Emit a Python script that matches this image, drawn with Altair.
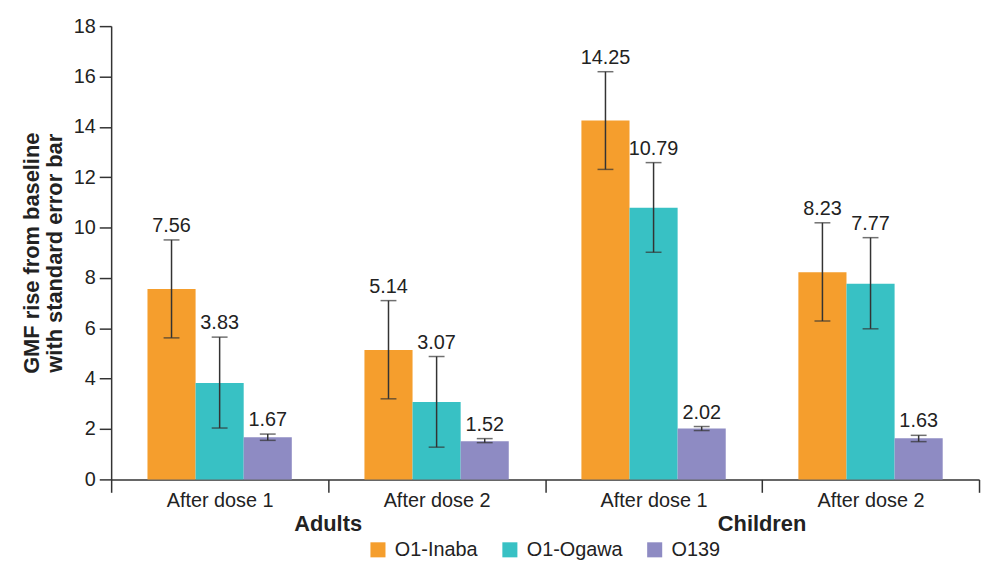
import altair as alt
import pandas as pd

groups = ["Adults", "Adults", "Children", "Children"]
doses = ["After dose 1", "After dose 2", "After dose 1", "After dose 2"]
series = ["O1-Inaba", "O1-Ogawa", "O139"]
colors = ["#F59E2D", "#38C1C4", "#8E8BC3"]

values = {
    "O1-Inaba": [7.56, 5.14, 14.25, 8.23],
    "O1-Ogawa": [3.83, 3.07, 10.79, 7.77],
    "O139": [1.67, 1.52, 2.02, 1.63],
}
err_low = {
    "O1-Inaba": [5.62, 3.2, 12.31, 6.29],
    "O1-Ogawa": [2.04, 1.28, 9.02, 5.98],
    "O139": [1.55, 1.46, 1.94, 1.5],
}
err_high = {
    "O1-Inaba": [9.51, 7.1, 16.19, 10.19],
    "O1-Ogawa": [5.65, 4.88, 12.58, 9.6],
    "O139": [1.8, 1.62, 2.1, 1.75],
}

rows = []
for s in series:
    for i in range(4):
        rows.append({
            "key": f"{groups[i]}|{doses[i]}",
            "series": s,
            "value": values[s][i],
            "lo": err_low[s][i],
            "hi": err_high[s][i],
            "label": f"{values[s][i]:.2f}",
        })
df = pd.DataFrame(rows)
keys = [f"{g}|{d}" for g, d in zip(groups, doses)]

grp_rows = []
for g in ["Adults", "Children"]:
    idx = [i for i in range(4) if groups[i] == g]
    grp_rows.append({"key": keys[idx[1]], "group": g})
gdf = pd.DataFrame(grp_rows)

FONT = "Liberation Sans"
TXT = "#222222"
W, H = 875, 457

x_enc = alt.X(
    "key:N", sort=keys, title=None,
    scale=alt.Scale(paddingInner=0, paddingOuter=0),
    axis=alt.Axis(
        labelExpr="split(datum.label, '|')[1]",
        labelFontSize=20, labelColor=TXT, labelFont=FONT,
        labelPadding=-2, tickSize=13, tickBand="extent",
        domainColor="#333", tickColor="#333", domainWidth=1.5, tickWidth=1.5,
        labelAngle=0,
    ),
)
xoff = alt.XOffset("series:N", sort=series,
                   scale=alt.Scale(paddingInner=0, paddingOuter=0.755))
y_scale = alt.Scale(domain=[0, 18])

bars = alt.Chart(df).mark_bar().encode(
    x=x_enc,
    xOffset=xoff,
    y=alt.Y("value:Q", scale=y_scale, title=["GMF rise from baseline", "with standard error bar"],
            axis=alt.Axis(values=list(range(0, 19, 2)), grid=False, tickSize=12,
                          labelFontSize=20, labelColor=TXT, labelFont=FONT, labelPadding=4,
                          domainColor="#333", tickColor="#333", domainWidth=1.5, tickWidth=1.5,
                          titleFontSize=22, titleFont=FONT, titleFontWeight="bold",
                          titleColor=TXT, titlePadding=7, titleLineHeight=23)),
    color=alt.Color("series:N", sort=series,
                    scale=alt.Scale(domain=series, range=colors),
                    legend=alt.Legend(title=None, orient="none", direction="horizontal",
                                      legendX=259, legendY=518,
                                      symbolType="square", symbolSize=230, symbolStrokeWidth=0,
                                      symbolOffset=0, labelOffset=7,
                                      labelFontSize=20, labelFont=FONT, labelColor=TXT,
                                      columnPadding=22)),
)

rules = alt.Chart(df).mark_rule(color="#333", strokeWidth=1.5).encode(
    x=alt.X("key:N", sort=keys), xOffset=alt.XOffset("series:N", sort=series),
    y=alt.Y("lo:Q", scale=y_scale), y2="hi:Q",
)
cap_lo = alt.Chart(df).mark_tick(color="#333", thickness=1.5, size=16, orient="horizontal").encode(
    x=alt.X("key:N", sort=keys), xOffset=alt.XOffset("series:N", sort=series),
    y=alt.Y("lo:Q", scale=y_scale),
)
cap_hi = alt.Chart(df).mark_tick(color="#333", thickness=1.5, size=16, orient="horizontal").encode(
    x=alt.X("key:N", sort=keys), xOffset=alt.XOffset("series:N", sort=series),
    y=alt.Y("hi:Q", scale=y_scale),
)
labels = alt.Chart(df).mark_text(baseline="bottom", dy=-4, fontSize=20, font=FONT, color=TXT).encode(
    x=alt.X("key:N", sort=keys), xOffset=alt.XOffset("series:N", sort=series),
    y=alt.Y("hi:Q", scale=y_scale), text="label:N",
)
grp_text = alt.Chart(gdf).mark_text(fontSize=22, fontWeight="bold", font=FONT, color=TXT,
                                    baseline="middle").encode(
    x=alt.X("key:N", sort=keys, bandPosition=0),
    y=alt.value(H + 45), text="group:N",
)

chart = alt.layer(bars, rules, cap_lo, cap_hi, labels, grp_text).properties(
    width=W, height=H,
    autosize=alt.AutoSizeParams(type="none"),
    padding={"left": 104, "top": 16, "right": 3, "bottom": 81},
).configure_view(stroke=None)

chart.save("out.html", embed_options={"renderer": "svg", "actions": False})
